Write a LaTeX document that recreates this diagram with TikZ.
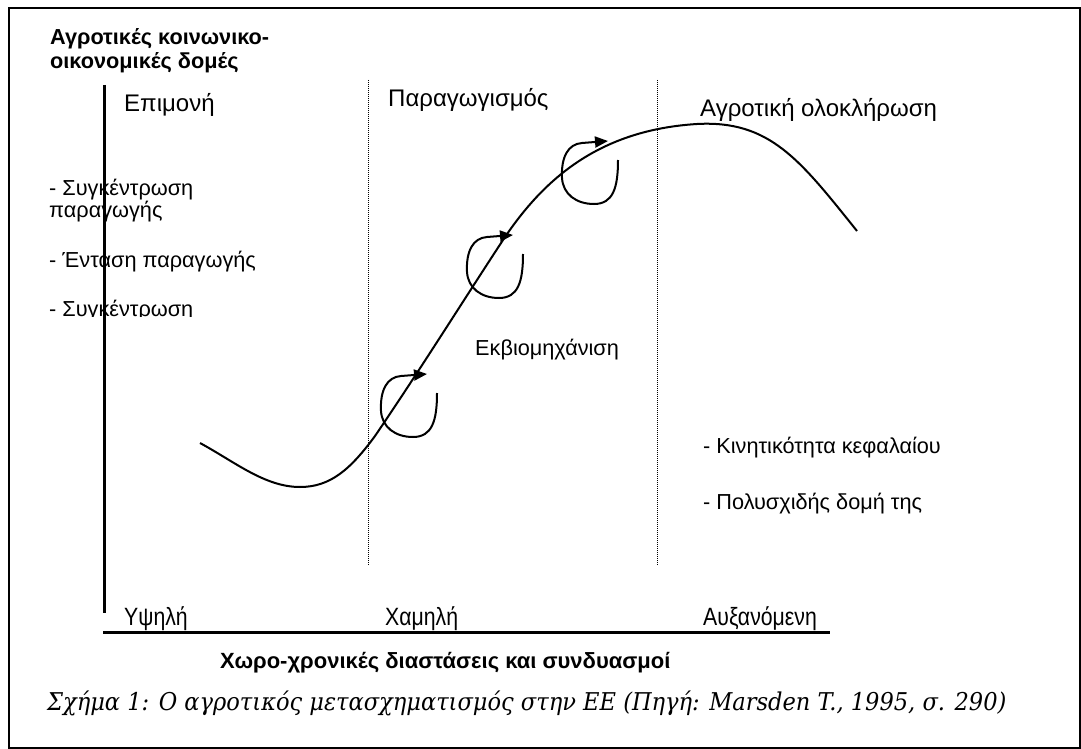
\documentclass[tikz,border=0pt]{standalone}
\usepackage{fontspec}
\setmainfont{Liberation Sans}
\newfontfamily\narrowfont[FakeStretch=0.85]{Liberation Sans}
\newfontfamily\capfont[FakeStretch=0.92]{DejaVu Serif}
\usetikzlibrary{arrows.meta}
\tikzset{
  txt/.style={inner sep=0pt, anchor=base west, font=\fontsize{21.7}{25}\selectfont},
  head/.style={txt, font=\fontsize{24}{28}\selectfont},
  ttl/.style={txt, font=\fontsize{21.7}{25}\selectfont\bfseries},
  low/.style={txt, font=\fontsize{25}{28}\narrowfont},
  xttl/.style={txt, font=\fontsize{22}{26}\selectfont\bfseries},
  capt/.style={txt, font=\fontsize{24.5}{28}\capfont\itshape},
  frame/.style={draw=black, line width=2pt},
  axis/.style={draw=black, line width=3pt},
  divider/.style={draw=black, line width=1pt, dash pattern=on 1pt off 1pt},
  curveline/.style={draw=black, line width=2pt},
  loopline/.style={draw=black, line width=2pt, -{Triangle[length=13pt,width=11pt]}},
  curl/.pic={\draw[loopline] (0,0) .. controls (0,28) and (-5,44) .. (-24,44)
      .. controls (-42,44) and (-55,34) .. (-56,18)
      .. controls (-57,-3) and (-50,-16) .. (-36,-17) -- (-10,-19);}
}
\begin{document}
\begin{tikzpicture}[x=1pt,y=-1pt]
\useasboundingbox (0,0) rectangle (1081,749);
\draw[frame] (8.5,8.5) rectangle (1079.5,747.5);

% title
\node[ttl] (t1) at (50,45) {Αγροτικές κοινωνικο-};
\node[ttl] (t2) at (50,69) {οικονομικές δομές};

% headings
\node[head] (h1) at (124,112) {Επιμονή};
\node[head] (h2) at (388,107) {Παραγωγισμός};
\node[head] (h3) at (700,117) {Αγροτική ολοκλήρωση};

% left items
\node[txt] (l1) at (49,195) {- Συγκέντρωση};
\node[txt] (l2) at (49,217) {παραγωγής};
\node[txt] (l3) at (49,267) {- Ένταση παραγωγής};
\begin{scope}
  \clip (40,290) rectangle (300,316.5);
  \node[txt] (l4) at (49,316) {- Συγκέντρωση};
\end{scope}

\node[txt] (mid) at (475,355) {Εκβιομηχάνιση};
\node[txt] (r1) at (703,453) {- Κινητικότητα κεφαλαίου};
\node[txt] (r2) at (703,509) {- Πολυσχιδής δομή της};

% dividers
\coordinate (d1t) at (368,80); \coordinate (d1b) at (368,565);
\coordinate (d2t) at (657,80); \coordinate (d2b) at (657,565);
\draw[divider] (d1t) -- (d1b);
\draw[divider] (d2t) -- (d2b);

% axes
\coordinate (vt) at (104,85); \coordinate (vb) at (104,613);
\coordinate (hl) at (103,632); \coordinate (hr) at (830,632);
\draw[axis] (vt) -- (vb);
\draw[axis] (hl) -- (hr);

% bottom labels
\node[low] (b1) at (124,625) {Υψηλή};
\node[low] (b2) at (385,625) {Χαμηλή};
\node[low] (b3) at (703,625) {Αυξανόμενη};
\node[xttl] (xl) at (220,668) {Χωρο-χρονικές διαστάσεις και συνδυασμοί};
\node[capt] (cap) at (47,710) {Σχήμα 1: Ο αγροτικός μετασχηματισμός στην ΕΕ (Πηγή: Marsden T., 1995, σ. 290)};

% main curve
\coordinate (cs) at (200,443);
\coordinate (ce) at (857,231);
\draw[curveline] (cs) .. controls (235,462) and (265,487) .. (300,487)
  .. controls (330,487) and (350,470) .. (375,436)
  .. controls (420,370) and (470,290) .. (505,237)
  .. controls (545,178) and (600,130) .. (697,124)
  .. controls (770,120) and (800,160) .. (ce);

% curls
\coordinate (c1) at (437,393);
\coordinate (c2) at (523,254);
\coordinate (c3) at (618,160);
\pic at (c1) {curl};
\pic at (c2) {curl};
\pic at (c3) {curl};
\end{tikzpicture}
\end{document}
